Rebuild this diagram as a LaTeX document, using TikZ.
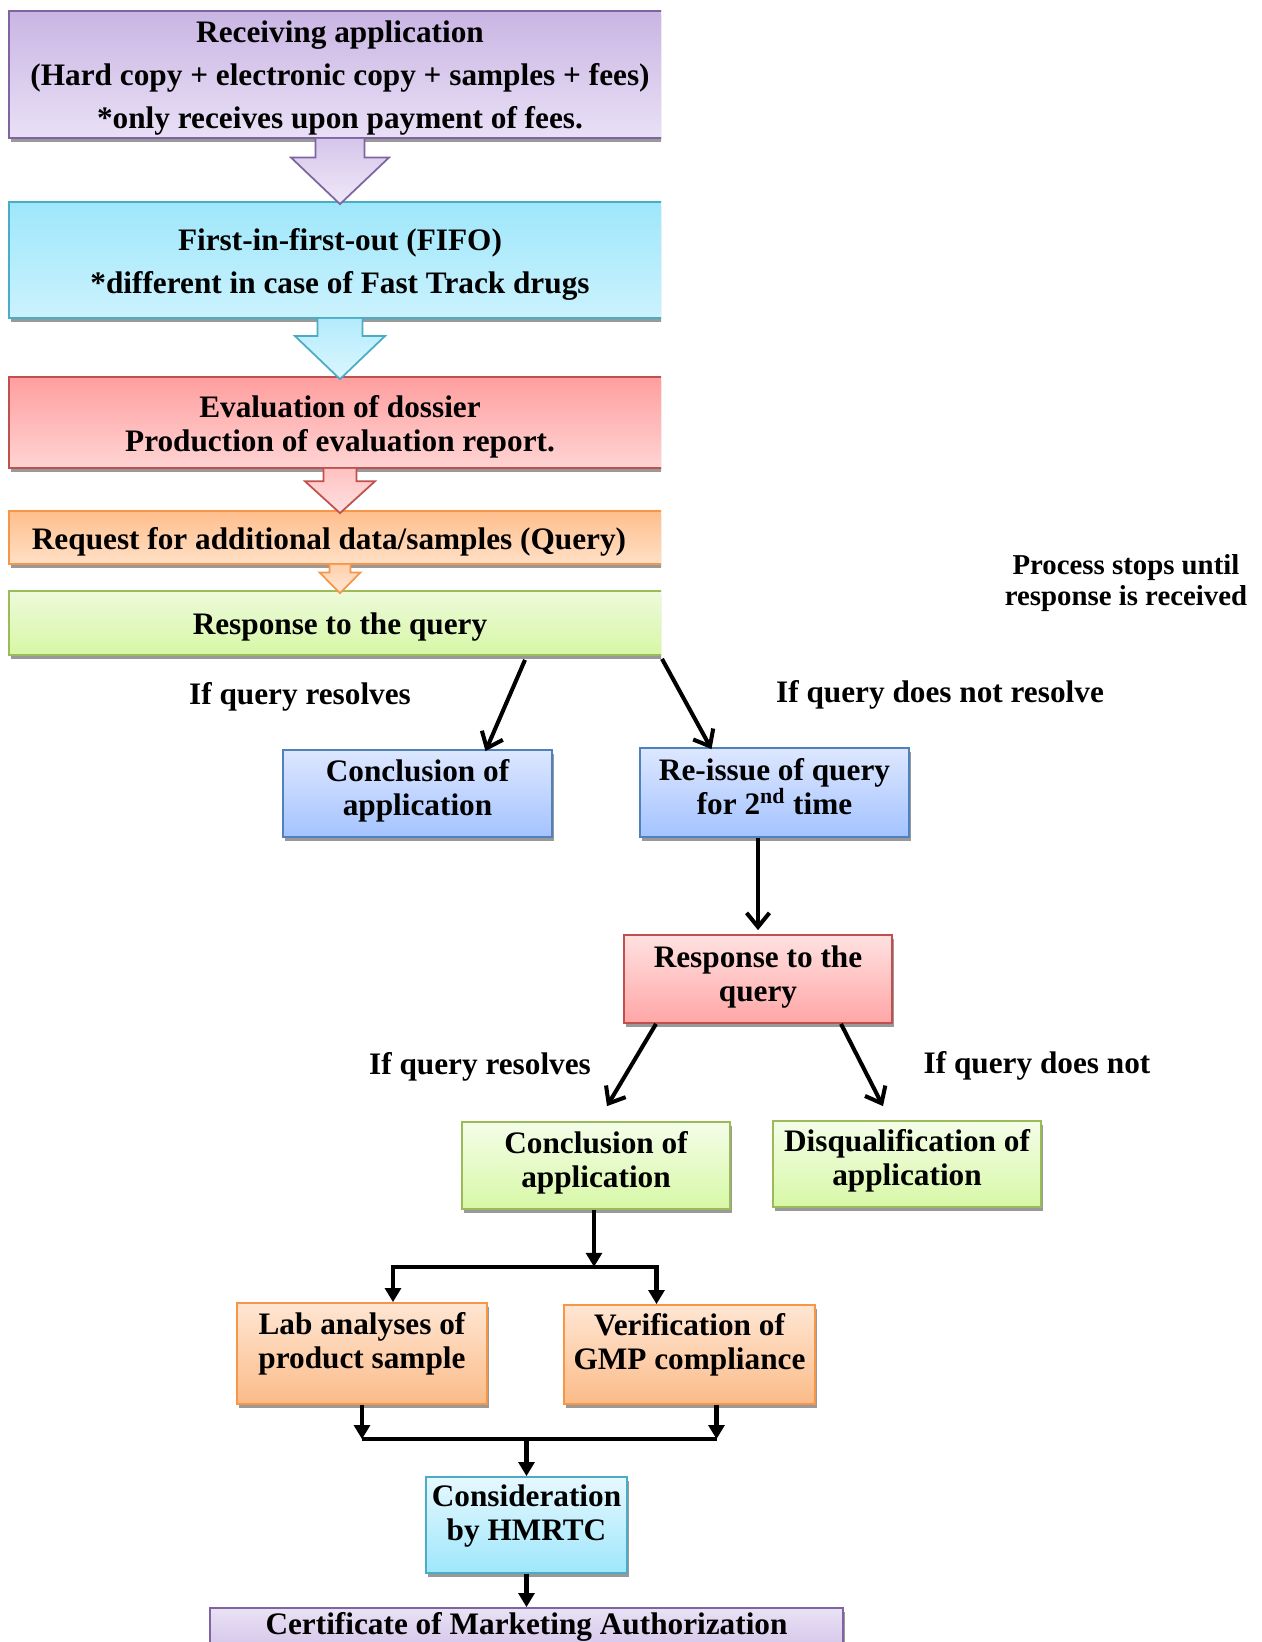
\documentclass[tikz,border=0pt]{standalone}
\usepackage{fontspec}
\setmainfont{Liberation Serif}
\usetikzlibrary{arrows.meta,calc,shadows}

\definecolor{purpleline}{HTML}{8064A2}
\definecolor{purpletop}{HTML}{C9B5E3}
\definecolor{purplebot}{HTML}{E9E0F6}
\definecolor{purplelight}{HTML}{E9E2F5}
\definecolor{purplearrtop}{HTML}{D5C6EB}
\definecolor{purplearrbot}{HTML}{EFE9F8}
\definecolor{cyanline}{HTML}{4BACC6}
\definecolor{cyantop}{HTML}{9EE7FB}
\definecolor{cyanbot}{HTML}{CBF2FD}
\definecolor{cyanlight}{HTML}{E6F8FE}
\definecolor{cyanarrtop}{HTML}{B4EBFC}
\definecolor{cyanarrbot}{HTML}{DBF7FE}
\definecolor{redline}{HTML}{C0504D}
\definecolor{redtop}{HTML}{FF9E9E}
\definecolor{redbot}{HTML}{FFD4D4}
\definecolor{redlight}{HTML}{FFE1E1}
\definecolor{reddark}{HTML}{FFA6A6}
\definecolor{redarrtop}{HTML}{FFC2C2}
\definecolor{redarrbot}{HTML}{FFE0E0}
\definecolor{orangeline}{HTML}{F79646}
\definecolor{orangetop}{HTML}{FFBE8C}
\definecolor{orangebot}{HTML}{FFE0C6}
\definecolor{orangelight}{HTML}{FFE6D3}
\definecolor{orangedark}{HTML}{FBBB88}
\definecolor{orangearrtop}{HTML}{FFD0AE}
\definecolor{orangearrbot}{HTML}{FFE8D6}
\definecolor{greenline}{HTML}{9BBB59}
\definecolor{greentop}{HTML}{EDFADB}
\definecolor{greenbot}{HTML}{D7F7A5}
\definecolor{greenlight}{HTML}{F4FDE8}
\definecolor{greendark}{HTML}{D7F8A6}
\definecolor{blueline}{HTML}{4F81BD}
\definecolor{bluetop}{HTML}{DDE7FF}
\definecolor{bluebot}{HTML}{A4C3FF}

\newcommand{\px}{0.02cm}
\newcommand{\boxfont}{\bfseries\fontsize{17.8}{19.3}\selectfont}

% block arrow between two stacked boxes: from, to, half shaft, half head, style
\newcommand{\blockarrow}[5]{%
  \path[#5] ($(#1.south)+(-#3,0)$) -- ($(#1.south)!0.3!(#2.north)+(-#3,0)$)
    -- ($(#1.south)!0.3!(#2.north)+(-#4,0)$) -- ($(#2.north)+(0,3)$)
    -- ($(#1.south)!0.3!(#2.north)+(#4,0)$) -- ($(#1.south)!0.3!(#2.north)+(#3,0)$)
    -- ($(#1.south)+(#3,0)$);}

\tikzset{
  box/.style={draw, line width=1pt, inner sep=0pt,
    drop shadow={shadow xshift=1pt,shadow yshift=-2.5pt,fill=black!40,opacity=1}},
  grad/.style 2 args={top color=#1, bottom color=#2},
  bigbox/.style={box, minimum width=662*\px},
  txt/.style={align=center, font=\boxfont, inner sep=0pt, text depth=3.9pt},
  blockstyle/.style={draw=#1, line width=1pt},
  barb/.style={line width=2.3pt, -{Straight Barb[length=8pt,width=13pt]}},
  tri/.style={line width=2.3pt, -{Triangle[length=8pt,width=9pt]}},
  bar/.style={line width=2.3pt}
}

\begin{document}
\begin{tikzpicture}[x=\px,y=-\px]
\useasboundingbox (0,0) rectangle (1261,1642);
\clip (0,0) rectangle (1261,1642);

\begin{scope}
\clip (0,0) rectangle (661,700);
\node[bigbox, draw=purpleline, grad={purpletop}{purplebot}, minimum height=127*\px] (recv) at (340,74.5) {};
\node[bigbox, draw=cyanline, grad={cyantop}{cyanbot}, minimum height=116*\px] (fifo) at (340,260) {};
\node[bigbox, draw=redline, grad={redtop}{redbot}, minimum height=91*\px] (dossier) at (340,422.5) {};
\node[bigbox, draw=orangeline, grad={orangetop}{orangebot}, minimum height=53*\px] (query) at (340,537.5) {};
\node[bigbox, draw=greenline, grad={greentop}{greenbot}, minimum height=64*\px] (reply) at (340,623) {};
\end{scope}

\node[txt] (recv-t) at (340,78)
  {Receiving application\\[5.1pt](Hard copy + electronic copy + samples + fees)\\[5.1pt]*only receives upon payment of fees.};
\node[txt] (fifo-t) at (340,264.5) {First-in-first-out (FIFO)\\[5.1pt]*different in case of Fast Track drugs};
\node[txt] (dossier-t) at (340,426.5) {Evaluation of dossier\\Production of evaluation report.};
\node[txt] (query-t) at (329,541.5) {Request for additional data/samples (Query)};
\node[txt] (reply-t) at (340,627) {Response to the query};

\blockarrow{recv}{fifo}{24.5}{49}{blockstyle=purpleline, grad={purplearrtop}{purplearrbot}}
\blockarrow{fifo}{dossier}{22.5}{45}{blockstyle=cyanline, grad={cyanarrtop}{cyanarrbot}}
\blockarrow{dossier}{query}{16.5}{35}{blockstyle=redline, grad={redarrtop}{redarrbot}}
\blockarrow{query}{reply}{10.5}{20.5}{blockstyle=orangeline, grad={orangearrtop}{orangearrbot}}

\node[box, draw=blueline, grad={bluetop}{bluebot}, minimum width=269*\px, minimum height=87*\px] (concl) at (417.5,793.5) {};
\node[txt] (concl-t) at (417.5,791) {Conclusion of\\application};
\node[box, draw=blueline, grad={bluetop}{bluebot}, minimum width=269*\px, minimum height=89*\px] (reissue) at (774.5,792.5) {};
\node[txt] (reissue-t) at (774.5,790) {Re-issue of query\\for 2\smash{\textsuperscript{nd}} time};
\node[box, draw=redline, grad={redlight}{reddark}, minimum width=268*\px, minimum height=88*\px] (reply2) at (758,979) {};
\node[txt] (reply2-t) at (758,977) {Response to the\\query};
\node[box, draw=greenline, grad={greenlight}{greendark}, minimum width=268*\px, minimum height=87*\px] (concl2) at (596,1165.5) {};
\node[txt] (concl2-t) at (596,1163) {Conclusion of\\application};
\node[box, draw=greenline, grad={greenlight}{greendark}, minimum width=268*\px, minimum height=86*\px] (disq) at (907,1164) {};
\node[txt] (disq-t) at (907,1161) {Disqualification of\\application};
\node[box, draw=orangeline, grad={orangelight}{orangedark}, minimum width=250*\px, minimum height=101*\px] (lab) at (362,1353.5) {};
\node[txt] (lab-t) at (362,1344) {Lab analyses of\\product sample};
\node[box, draw=orangeline, grad={orangelight}{orangedark}, minimum width=251*\px, minimum height=99*\px] (gmp) at (689.5,1354.5) {};
\node[txt] (gmp-t) at (689.5,1345) {Verification of\\GMP compliance};
\node[box, draw=cyanline, grad={cyanlight}{cyantop}, minimum width=201*\px, minimum height=96*\px] (hmrtc) at (526.5,1525) {};
\node[txt] (hmrtc-t) at (526.5,1516.5) {Consideration\\by HMRTC};
\node[box, draw=purpleline, grad={purplelight}{purpletop}, minimum width=633*\px, minimum height=64*\px] (cert) at (526.5,1640) {};
\node[txt] (cert-t) at (526.5,1627) {Certificate of Marketing Authorization};

\node[txt] (res-a) at (300,697) {If query resolves};
\node[txt] (notres-a) at (940,695) {If query does not resolve};
\node[txt, font=\bfseries\fontsize{16.4}{17.6}\selectfont] (stops) at (1126,583) {Process stops until\\response is received};
\node[txt] (res-b) at (480,1067) {If query resolves};
\node[txt] (notres-b) at (1037,1066) {If query does not};

\draw[barb] ($(reply.south)+(185,4)$) -- ($(concl.north)+(68,2)$);
\draw[barb] ($(reply.south)+(322,3)$) -- ($(reissue.north)+(-63,2)$);
\draw[barb] (reissue.south -| reply2.north) -- ($(reply2.north)+(0,-4)$);
\draw[barb] ($(reply2.south)+(-102,0)$) -- ($(concl2.north)+(11,-15)$);
\draw[barb] ($(reply2.south)+(83,0)$) -- ($(disq.north)+(-24,-14)$);

\coordinate (split) at ($(concl2.south)+(-2,57)$);
\draw[tri] (concl2.south -| split) -- (split);
\draw[tri] (split) -| ($(lab.north)+(31,0)$);
\draw[tri] (split) -| ($(gmp.north)+(-33,0)$);

\coordinate (join) at ($(hmrtc.north)+(0,-37)$);
\coordinate (gmpout) at ($(gmp.south)+(27,0)$);
\draw[tri] (lab.south) -- (lab.south |- join);
\draw[tri] (gmpout) -- (gmpout |- join);
\draw[bar] (lab.south |- join) -- (gmpout |- join);
\draw[tri] (join) -- (hmrtc.north);
\draw[tri] (hmrtc.south) -- (cert.north);
\end{tikzpicture}
\end{document}
